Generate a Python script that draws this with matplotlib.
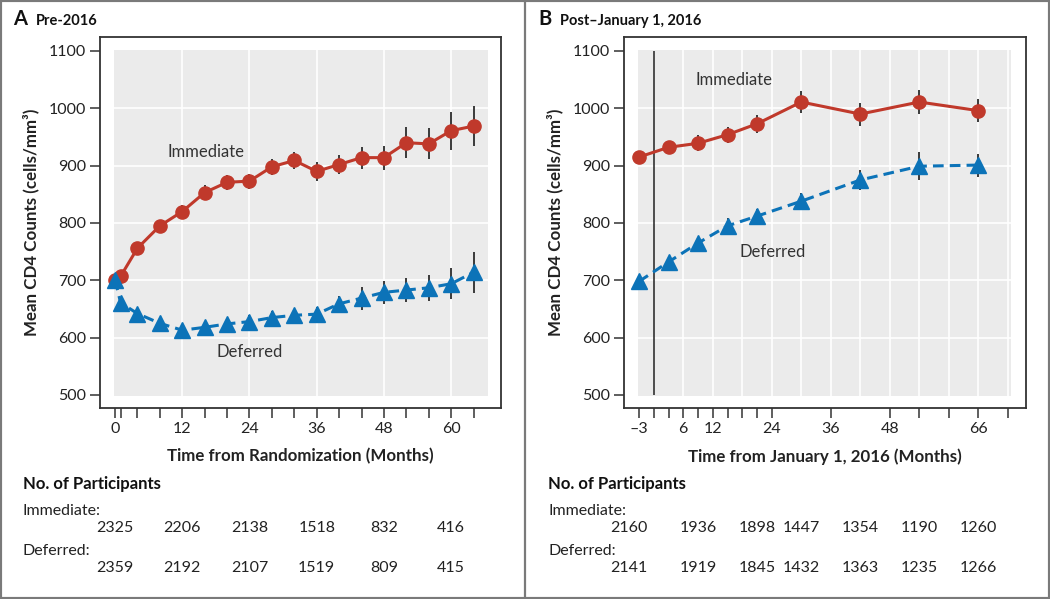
import numpy as np
import matplotlib
matplotlib.use("Agg")
import matplotlib.pyplot as plt
from matplotlib.patches import Rectangle
from matplotlib.lines import Line2D
from matplotlib.transforms import blended_transform_factory

plt.rcParams['font.family'] = ['Lato', 'DejaVu Sans']

# panel A: pre-2016
months_a = [0, 1, 4, 8, 12, 16, 20, 24, 28, 32, 36, 40, 44, 48, 52, 56, 60, 64]
imm_a = [700, 707, 756, 795, 820, 853, 871, 873, 898, 909, 890, 902, 914, 914, 940, 938, 961, 969]
imm_a_err = [8, 10, 10, 11, 11, 13, 13, 13, 14, 15, 16, 17, 19, 21, 27, 27, 33, 35]
def_a = [701, 661, 642, 625, 613, 618, 624, 628, 635, 639, 641, 659, 669, 679, 683, 687, 694, 714]
def_a_err = [8, 8, 8, 9, 9, 9, 10, 11, 11, 11, 12, 14, 20, 20, 21, 23, 27, 36]

# panel B: post-January 1, 2016
months_b = [-3, 3, 9, 15, 21, 30, 42, 54, 66]
imm_b = [915, 932, 939, 954, 973, 1011, 990, 1011, 996]
imm_b_err = [8, 9, 14, 14, 16, 20, 20, 21, 20]
def_b = [698, 732, 765, 795, 812, 838, 875, 899, 901]
def_b_err = [8, 8, 10, 14, 12, 14, 17, 24, 20]

# participants at risk
count_months_a = [0, 12, 24, 36, 48, 60]
n_imm_a = [2325, 2206, 2138, 1518, 832, 416]
n_def_a = [2359, 2192, 2107, 1519, 809, 415]
count_months_b = [-5, 9, 21, 30, 42, 54, 66]
n_imm_b = [2160, 1936, 1898, 1447, 1354, 1190, 1260]
n_def_b = [2141, 1919, 1845, 1432, 1363, 1235, 1266]

# ticks
ticks_a = [0, 1, 4, 8, 12, 16, 20, 24, 28, 32, 36, 40, 44, 48, 52, 56, 60, 64]
labels_a = [0, 12, 24, 36, 48, 60]
ticks_b = [-3, 0, 3, 6, 9, 12, 15, 18, 21, 24, 36, 48, 54, 60, 66, 72]
labels_b = [-3, 6, 12, 24, 36, 48, 66]
grid_x_a = [12, 24, 36, 48, 60]
grid_x_b = [6, 12, 18, 24, 30, 36, 42, 48, 54, 60, 66, 72]
yticks = [500, 600, 700, 800, 900, 1000, 1100]

RED = '#C0392B'
BLUE = '#0C73B8'
DARK = '#333333'
W, H = 1050, 599


def fx(px):
    return px / W


def fy(py):
    return 1 - py / H


fig = plt.figure(figsize=(10.5, 5.99), dpi=100)
ax_a = fig.add_axes([fx(100), fy(408), fx(401), 371 / H])
ax_b = fig.add_axes([fx(624), fy(408), fx(402), 371 / H])


def setup(ax, xlim, gray_x, grid_x, ticks, labels, xlabel):
    ax.set_facecolor('white')
    ax.set_xlim(*xlim)
    ax.set_ylim(477.3, 1124.4)
    ax.add_patch(Rectangle((gray_x[0], 499), gray_x[1] - gray_x[0], 602,
                           facecolor='#EBEBEB', edgecolor='none', zorder=0))
    ax.hlines([600, 700, 800, 900, 1000], gray_x[0], gray_x[1], color='white', lw=1.2, zorder=0.5)
    ax.vlines(grid_x, 499, 1101, color='white', lw=1.2, zorder=0.5)
    for s in ax.spines.values():
        s.set_color(DARK)
        s.set_linewidth(1.3)
    ax.set_yticks(yticks)
    ax.set_xticks(ticks)
    ax.set_xticklabels([('–%d' % -t if t < 0 else str(t)) if t in labels else '' for t in ticks])
    ax.tick_params(direction='out', length=7, width=1.1, color=DARK, labelsize=11.5,
                   labelcolor='#222222', pad=3)
    ax.set_xlabel(xlabel, fontsize=12.2, fontweight='bold', color='#222222')
    ax.xaxis.set_label_coords(0.5, -0.108)


def draw(ax, months, imm, imm_err, dfr, dfr_err):
    ax.errorbar(months, imm, yerr=imm_err, fmt='none', ecolor='#3a3a3a', elinewidth=1.4,
                capsize=0, zorder=2)
    ax.errorbar(months, dfr, yerr=dfr_err, fmt='none', ecolor='#3a3a3a', elinewidth=1.4,
                capsize=0, zorder=2)
    ax.plot(months, imm, color=RED, lw=2.2, marker='o', ms=9.5, mec=RED, zorder=3)
    ax.plot(months, dfr, color=BLUE, lw=2.2, ls=(0, (3.5, 2)), marker='^', ms=11.5,
            mec=BLUE, zorder=3)


setup(ax_a, (-2.68, 68.9), (-0.2, 66.6), grid_x_a, ticks_a, labels_a,
      'Time from Randomization (Months)')
setup(ax_b, (-6.05, 75.7), (-3.3, 72.7), grid_x_b, ticks_b, labels_b,
      'Time from January 1, 2016 (Months)')
ax_b.vlines([0], 500, 1100, color='#222222', lw=1.1, zorder=1)

draw(ax_a, months_a, imm_a, imm_a_err, def_a, def_a_err)
draw(ax_b, months_b, imm_b, imm_b_err, def_b, def_b_err)

ax_a.text(16.3, 924, 'Immediate', fontsize=12, color='#333333', ha='center', va='center')
ax_a.text(24, 575, 'Deferred', fontsize=12, color='#333333', ha='center', va='center')
ax_b.text(16.4, 1050, 'Immediate', fontsize=12, color='#333333', ha='center', va='center')
ax_b.text(24.1, 750, 'Deferred', fontsize=12, color='#333333', ha='center', va='center')

# y labels
for xp in (31, 555):
    fig.text(fx(xp), fy(222), 'Mean CD4 Counts (cells/mm³)', rotation=90, fontsize=12.2,
             fontweight='bold', color='#222222', ha='center', va='center')

# panel headings
fig.text(fx(13), fy(25), 'A', fontsize=14.5, fontweight='bold', color='#111111', va='baseline')
fig.text(fx(36), fy(25), 'Pre-2016', fontsize=10.5, fontweight='bold', color='#111111',
         va='baseline')
fig.text(fx(538), fy(25), 'B', fontsize=14.5, fontweight='bold', color='#111111', va='baseline')
fig.text(fx(560), fy(25), 'Post–January 1, 2016', fontsize=10.5, fontweight='bold',
         color='#111111', va='baseline')

# participant tables
for ax, left, cm, ni, nd in ((ax_a, 23, count_months_a, n_imm_a, n_def_a),
                             (ax_b, 548, count_months_b, n_imm_b, n_def_b)):
    fig.text(fx(left), fy(489), 'No. of Participants', fontsize=12, fontweight='bold',
             color='#111111', va='baseline')
    fig.text(fx(left), fy(515), 'Immediate:', fontsize=11.5, color='#222222', va='baseline')
    fig.text(fx(left), fy(555), 'Deferred:', fontsize=11.5, color='#222222', va='baseline')
    tr = blended_transform_factory(ax.transData, fig.transFigure)
    for m, a, d in zip(cm, ni, nd):
        ax.text(m, fy(532), str(a), transform=tr, fontsize=11.5, color='#222222',
                ha='center', va='baseline', clip_on=False)
        ax.text(m, fy(571.5), str(d), transform=tr, fontsize=11.5, color='#222222',
                ha='center', va='baseline', clip_on=False)

# outer frame and divider
fig.add_artist(Rectangle((0, 0), 1, 1, transform=fig.transFigure, fill=False,
                         edgecolor='#7a7a7a', lw=3))
fig.add_artist(Line2D([fx(525), fx(525)], [0, 1], transform=fig.transFigure,
                      color='#7a7a7a', lw=1.6))

fig.savefig('out.png', dpi=100)
